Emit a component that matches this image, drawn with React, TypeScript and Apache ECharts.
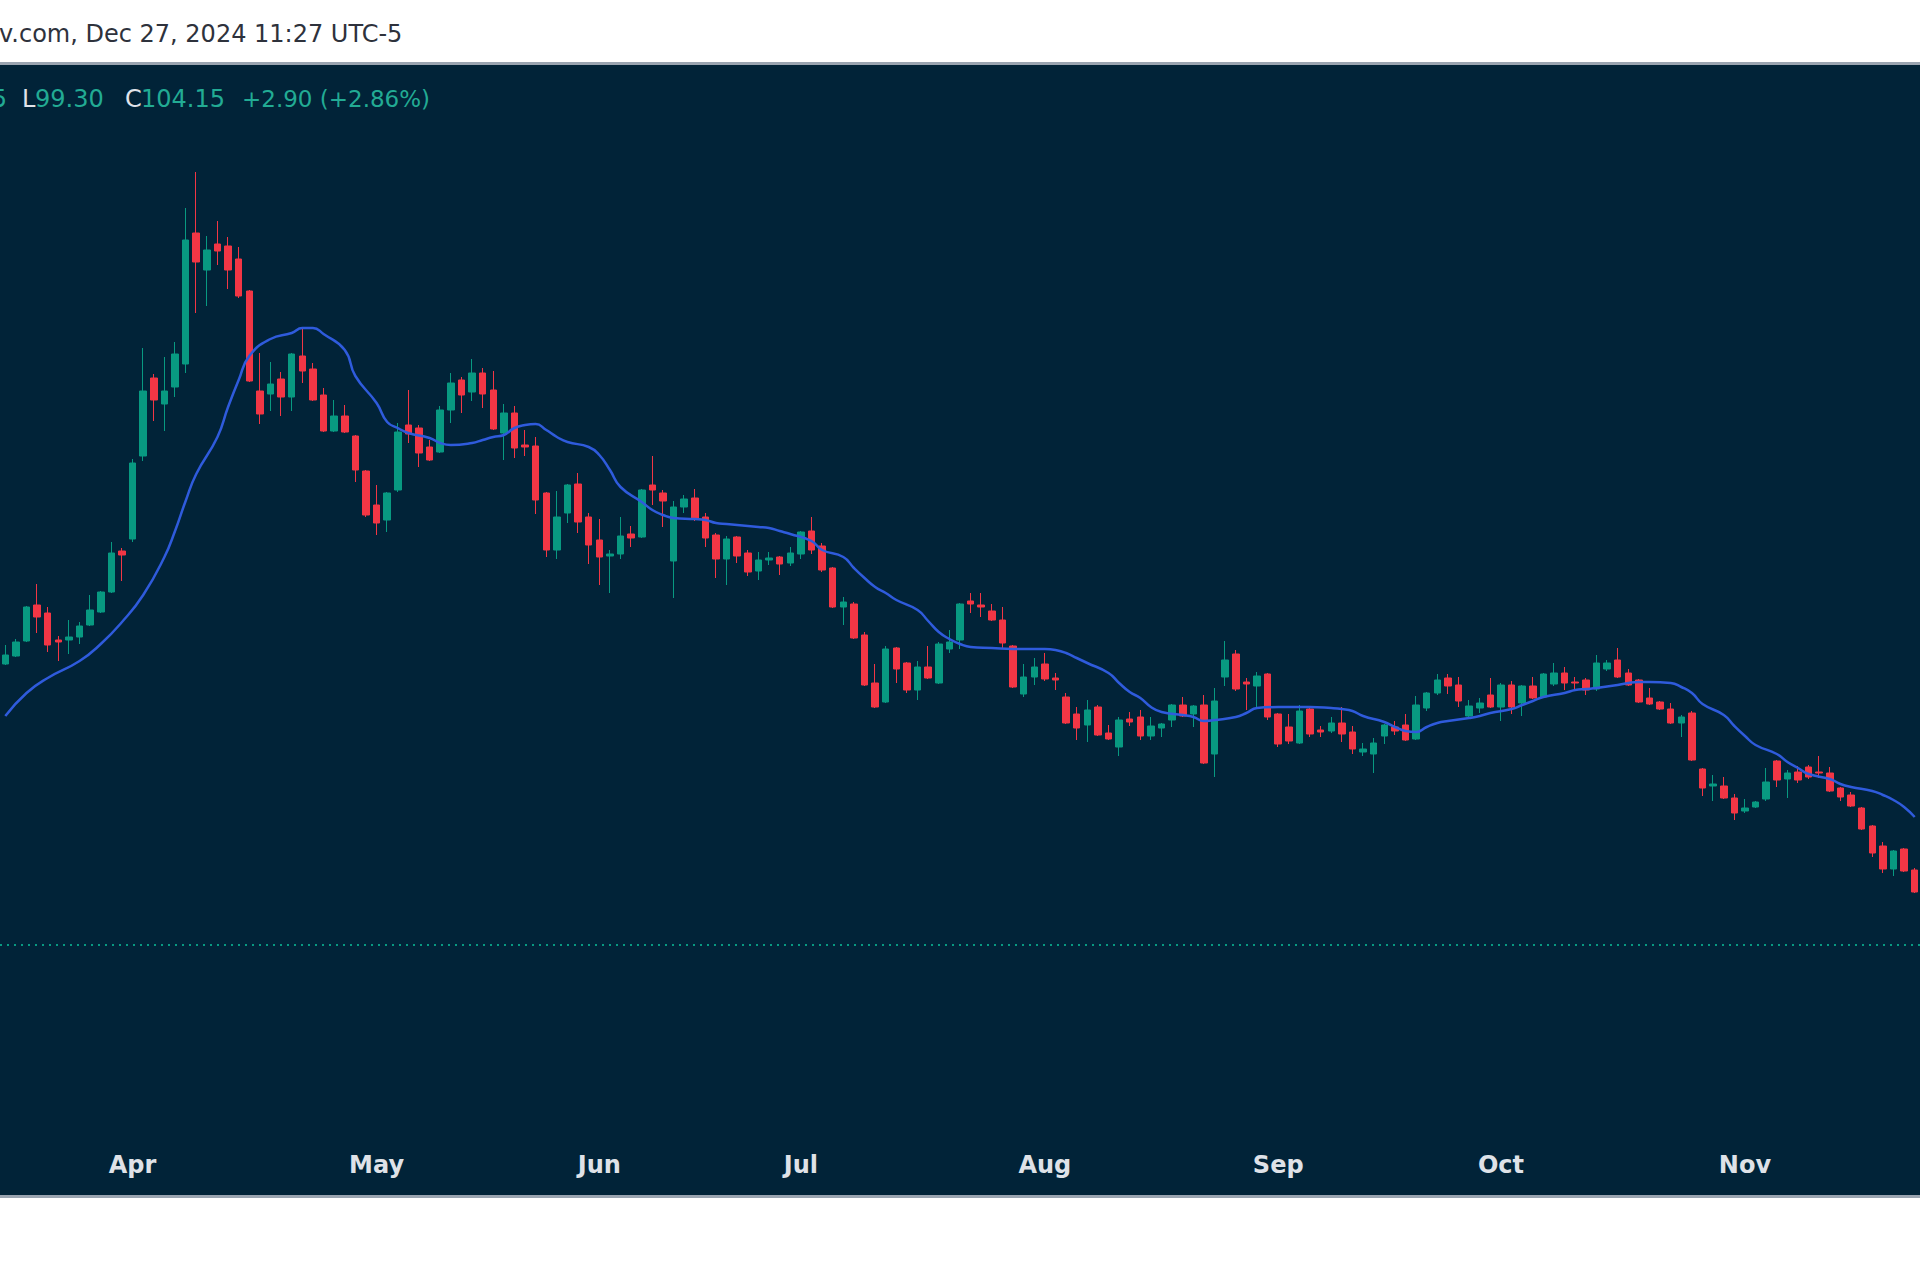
import React, { useEffect, useRef } from "react";
import * as echarts from "echarts";

// Daily OHLC (bar 0 = first visible bar at the left edge)
const open = [
  132.2, 133.0, 134.5, 138.1, 137.3, 134.6, 134.6, 134.9, 136.1, 137.4,
  139.4, 143.5, 144.7, 153.0, 160.8, 158.2, 159.9, 162.2, 175.3, 171.6,
  174.2, 174.0, 172.7, 169.5, 159.5, 159.2, 160.7, 158.9, 163.0, 161.7,
  159.1, 155.5, 157.0, 155.0, 151.5, 148.1, 146.6, 149.6, 156.1, 155.8,
  153.9, 153.4, 157.6, 160.6, 159.4, 161.3, 159.6, 155.3, 157.3, 154.1,
  154.0, 149.3, 143.6, 147.3, 150.2, 146.9, 144.6, 143.0, 143.2, 145.2,
  144.9, 150.1, 149.3, 142.5, 147.9, 148.8, 146.9, 145.1, 142.7, 144.9,
  143.3, 141.5, 142.6, 142.9, 142.3, 143.2, 145.5, 144.0, 141.8, 137.9,
  138.2, 135.1, 130.3, 128.4, 133.8, 132.3, 129.6, 131.9, 130.3, 133.7,
  134.6, 138.5, 138.1, 137.5, 136.6, 134.0, 129.2, 130.9, 132.2, 130.8,
  128.9, 127.2, 126.1, 127.9, 125.3, 123.9, 126.7, 126.9, 125.0, 125.8,
  126.6, 128.1, 127.2, 128.1, 123.2, 130.9, 133.2, 130.4, 130.0, 131.2,
  127.2, 125.9, 124.3, 127.7, 125.6, 125.5, 126.3, 125.4, 123.4, 123.2,
  125.0, 125.9, 126.1, 124.7, 127.8, 129.3, 130.8, 130.1, 127.0, 127.8,
  129.1, 127.9, 130.1, 128.3, 130.0, 128.9, 130.2, 131.3, 130.4, 130.6,
  129.7, 131.7, 132.6, 131.3, 130.6, 128.8, 128.4, 127.7, 126.3, 127.3,
  121.7, 120.0, 120.0, 118.8, 117.5, 117.9, 118.7, 122.5, 120.7, 121.4,
  121.9, 121.4, 121.3, 119.8, 119.1, 117.8, 116.0, 114.0, 111.7, 113.7,
  111.6,
];
const high = [
  134.1, 134.7, 138.0, 140.2, 137.9, 135.0, 136.6, 136.4, 139.1, 139.5,
  144.4, 143.8, 152.7, 163.8, 161.2, 162.9, 164.4, 177.8, 181.4, 175.0,
  176.5, 174.9, 173.9, 169.6, 163.3, 162.4, 161.4, 163.3, 165.9, 162.3,
  159.8, 158.6, 158.1, 155.1, 151.6, 150.1, 149.4, 156.3, 159.6, 156.1,
  154.6, 158.0, 161.3, 160.9, 162.7, 161.8, 161.5, 158.2, 158.0, 155.6,
  154.9, 149.4, 149.5, 150.2, 151.3, 147.3, 146.7, 143.6, 146.9, 146.0,
  149.7, 153.0, 149.6, 148.5, 149.1, 149.7, 147.3, 145.3, 145.0, 145.0,
  143.6, 143.4, 143.4, 143.0, 143.9, 145.5, 146.9, 144.3, 141.9, 138.9,
  138.4, 135.4, 132.2, 134.0, 133.9, 132.4, 132.5, 134.0, 134.4, 135.6,
  138.3, 139.3, 139.3, 138.2, 137.9, 134.1, 132.2, 132.8, 133.3, 131.3,
  129.3, 127.9, 128.6, 128.1, 126.1, 126.9, 127.4, 127.6, 126.9, 126.3,
  128.2, 128.9, 128.1, 129.1, 129.8, 134.5, 133.6, 130.8, 131.4, 131.3,
  127.3, 127.2, 128.1, 127.8, 126.0, 126.9, 127.9, 126.0, 124.3, 124.8,
  126.2, 126.5, 127.2, 129.0, 129.4, 131.2, 131.2, 130.9, 128.6, 128.8,
  130.8, 130.3, 130.5, 130.1, 130.9, 131.3, 132.3, 131.9, 130.9, 130.8,
  133.1, 132.6, 133.8, 131.7, 130.7, 129.8, 128.5, 128.3, 127.1, 127.5,
  121.8, 121.1, 120.9, 119.2, 118.7, 118.5, 121.8, 122.6, 121.6, 122.0,
  122.1, 123.0, 121.9, 119.9, 119.4, 117.9, 116.1, 114.4, 113.6, 113.8,
  111.8,
];
const low = [
  132.1, 132.9, 134.4, 135.3, 133.4, 132.5, 133.2, 134.2, 136.0, 137.3,
  139.3, 140.5, 144.4, 152.5, 156.5, 155.5, 158.9, 161.3, 167.3, 168.0,
  172.1, 169.7, 168.8, 160.4, 156.2, 157.5, 157.0, 157.5, 160.3, 158.5,
  155.4, 155.4, 155.3, 150.4, 146.9, 145.1, 145.4, 149.4, 154.3, 151.9,
  152.5, 153.3, 156.3, 157.3, 158.5, 157.8, 155.6, 152.6, 152.8, 153.0,
  147.2, 142.9, 142.7, 146.3, 145.3, 142.2, 140.1, 139.3, 142.7, 143.9,
  144.8, 148.1, 145.9, 138.8, 147.3, 146.5, 143.9, 140.8, 140.1, 142.3,
  141.0, 140.6, 142.1, 141.1, 142.0, 142.7, 143.2, 141.4, 137.8, 136.1,
  134.7, 130.0, 127.8, 128.3, 130.3, 129.3, 128.6, 130.7, 130.2, 133.3,
  133.7, 137.3, 136.9, 136.5, 133.7, 129.8, 128.9, 130.1, 130.5, 129.6,
  126.2, 124.6, 124.4, 125.0, 124.6, 123.0, 126.0, 124.6, 124.6, 124.9,
  125.9, 126.9, 125.9, 122.2, 120.9, 130.0, 129.5, 127.6, 127.8, 126.6,
  123.9, 124.2, 124.2, 124.9, 124.9, 125.3, 124.4, 123.2, 123.0, 121.3,
  124.2, 125.1, 124.5, 124.6, 127.5, 129.1, 129.2, 127.9, 126.9, 127.3,
  127.8, 126.5, 127.2, 127.0, 128.7, 128.8, 130.0, 129.6, 129.5, 129.1,
  129.5, 131.5, 130.8, 130.0, 128.3, 128.1, 127.6, 126.2, 124.9, 122.5,
  119.0, 118.5, 118.7, 116.6, 117.3, 117.8, 118.5, 119.9, 118.8, 120.3,
  120.7, 120.8, 119.4, 118.5, 117.9, 115.6, 112.9, 111.3, 111.0, 111.4,
  109.3,
];
const close = [
  133.1, 134.4, 137.9, 136.9, 134.1, 134.4, 134.9, 136.0, 137.6, 139.4,
  143.3, 143.1, 152.3, 159.5, 158.6, 159.5, 163.2, 174.6, 172.4, 173.6,
  173.5, 171.6, 169.0, 160.5, 157.2, 160.2, 158.9, 163.2, 161.5, 158.6,
  155.5, 157.0, 155.4, 151.6, 147.1, 146.3, 149.3, 155.4, 155.2, 153.3,
  152.6, 157.6, 160.3, 159.1, 161.3, 159.2, 155.7, 157.3, 153.8, 153.9,
  148.6, 143.6, 146.9, 150.1, 146.4, 144.1, 142.9, 143.2, 145.0, 144.8,
  149.6, 149.6, 148.5, 147.9, 148.7, 146.7, 144.8, 142.7, 144.7, 143.0,
  141.4, 142.6, 142.8, 142.2, 143.3, 145.4, 143.6, 141.6, 137.9, 138.4,
  134.8, 130.1, 127.9, 133.7, 131.7, 129.6, 131.9, 130.8, 134.2, 134.4,
  138.2, 138.2, 137.9, 136.6, 134.3, 129.9, 130.9, 131.9, 130.7, 130.6,
  126.3, 125.8, 127.6, 125.1, 124.7, 126.6, 126.4, 125.0, 126.0, 126.2,
  128.1, 127.0, 128.0, 122.3, 128.5, 132.6, 129.7, 130.2, 131.0, 126.9,
  124.2, 124.5, 127.5, 125.2, 125.4, 126.3, 125.2, 123.7, 123.7, 124.3,
  126.1, 125.5, 124.6, 128.1, 129.3, 130.6, 130.0, 128.5, 128.0, 128.3,
  127.9, 130.1, 127.9, 130.0, 128.8, 131.2, 131.3, 130.3, 130.3, 129.6,
  132.3, 132.3, 130.9, 130.1, 128.4, 128.2, 127.7, 126.3, 126.9, 122.6,
  119.8, 120.2, 118.8, 117.3, 117.8, 118.4, 120.4, 120.6, 121.3, 120.6,
  120.9, 121.3, 119.5, 118.9, 118.0, 115.7, 113.3, 111.7, 113.5, 111.5,
  109.4,
];

// Month labels of the time axis (bar index where each month starts)
const tickBars = [12, 35, 56, 75, 98, 120, 141, 164];
const tickLabels = ["Apr", "May", "Jun", "Jul", "Aug", "Sep", "Oct", "Nov"];

// Moving-average line at these bars
const maBars = [
  0, 2, 4, 7, 9, 11, 13, 15, 16, 17, 18, 20, 21, 22, 23, 25, 27, 28, 29, 30,
  32, 33, 35, 36, 37, 38, 40, 41, 42, 44, 45, 46, 47, 48, 49, 50, 51, 52, 53, 55,
  56, 57, 58, 60, 61, 62, 63, 65, 66, 67, 68, 69, 71, 72, 73, 74, 76, 77, 79, 80,
  81, 82, 83, 84, 86, 87, 88, 89, 90, 91, 93, 95, 96, 98, 99, 100, 101, 102, 104, 105,
  106, 107, 108, 109, 111, 112, 113, 114, 116, 117, 118, 120, 121, 122, 123, 125, 126, 127, 128, 130,
  131, 132, 133, 134, 135, 136, 138, 139, 140, 142, 143, 144, 145, 147, 148, 149, 150, 152, 153, 154,
  155, 157, 158, 159, 160, 162, 163, 164, 165, 167, 168, 169, 170, 172, 173, 174, 176, 177, 178, 179,
  180,
];
const maValues = [
  127.0, 129.3, 130.8, 132.5, 134.2, 136.4, 139.1, 142.9, 145.5, 148.5, 151.2, 154.9, 157.9, 160.6, 163.0, 164.7, 165.3, 165.8, 165.8, 165.2,
  163.6, 161.0, 158.3, 156.4, 155.8, 155.3, 154.8, 154.3, 154.1, 154.3, 154.6, 154.9, 155.1, 155.8, 156.1, 156.2, 155.6, 154.9, 154.4, 153.9,
  153.1, 151.6, 149.9, 148.4, 147.6, 147.1, 146.8, 146.7, 146.6, 146.3, 146.2, 146.1, 145.9, 145.8, 145.5, 145.2, 144.5, 143.6, 142.9, 141.8,
  140.8, 139.9, 139.3, 138.6, 137.6, 136.5, 135.4, 134.7, 134.2, 133.9, 133.8, 133.7, 133.7, 133.7, 133.6, 133.3, 132.8, 132.3, 131.3, 130.3,
  129.4, 128.8, 127.9, 127.4, 127.1, 126.9, 126.5, 126.6, 126.9, 127.3, 127.8, 127.9, 127.9, 127.9, 127.9, 127.8, 127.7, 127.5, 127.0, 126.4,
  125.9, 125.5, 125.4, 125.9, 126.3, 126.5, 126.8, 127.0, 127.3, 127.7, 128.1, 128.5, 128.9, 129.3, 129.6, 129.7, 129.8, 130.1, 130.3, 130.4,
  130.4, 130.3, 129.9, 129.3, 128.2, 127.1, 126.0, 125.0, 124.1, 123.2, 122.4, 121.8, 121.2, 120.7, 120.2, 119.9, 119.5, 119.1, 118.6, 117.9,
  116.9,
];

const lastPrice = 104.15;

const NAVY = "#012338";
const UP = "#089981";
const DOWN = "#f23645";
const FONT = "DejaVu Sans";

export default function App() {
  const ref = useRef<HTMLDivElement>(null);

  useEffect(() => {
    if (!ref.current) return;
    const chart = echarts.init(ref.current, null, { renderer: "svg" });
    const n = close.length;
    const categories = close.map((_, i) => String(i));
    const candles = close.map((c, i) => [open[i], c, low[i], high[i]]);
    const ma: (number | null)[] = new Array(n).fill(null);
    maBars.forEach((b, k) => {
      ma[b] = maValues[k];
    });
    const labelAt: Record<number, string> = {};
    tickBars.forEach((b, k) => {
      labelAt[b] = tickLabels[k];
    });

    const legendY = 99;
    chart.setOption({
      animation: false,
      backgroundColor: NAVY,
      grid: { left: 0, right: 0, top: 65, bottom: 145, containLabel: false },
      xAxis: {
        type: "category",
        data: categories,
        boundaryGap: true,
        axisLine: { show: false },
        axisTick: { show: false },
        splitLine: { show: false },
        axisLabel: {
          interval: 0,
          formatter: (_v: string, i: number) => labelAt[i] || "",
          color: "#dfe2e8",
          fontFamily: FONT,
          fontSize: 24,
          fontWeight: "bold",
          margin: 18,
        },
      },
      yAxis: {
        type: "value",
        show: false,
        min: 85.1,
        max: 192.1,
        splitLine: { show: false },
      },
      series: [
        {
          type: "candlestick",
          data: candles,
          barWidth: 7,
          itemStyle: {
            color: UP,
            color0: DOWN,
            borderColor: UP,
            borderColor0: DOWN,
            borderWidth: 1,
          },
          markLine: {
            silent: true,
            symbol: ["none", "none"],
            label: { show: false },
            lineStyle: { color: UP, type: [2, 5], width: 2 },
            data: [{ yAxis: lastPrice }],
          },
        },
        {
          type: "line",
          data: ma,
          connectNulls: true,
          smooth: 0.5,
          showSymbol: false,
          lineStyle: { color: "#2f5bdc", width: 2.5 },
          z: 3,
        },
      ],
      graphic: [
        { type: "rect", shape: { x: 0, y: 0, width: 1920, height: 62 }, style: { fill: "#ffffff" } },
        { type: "rect", shape: { x: 0, y: 62, width: 1920, height: 3 }, style: { fill: "#9aa4b0" } },
        { type: "rect", shape: { x: 0, y: 1195, width: 1920, height: 3 }, style: { fill: "#9aa4b0" } },
        { type: "rect", shape: { x: 0, y: 1198, width: 1920, height: 82 }, style: { fill: "#ffffff" } },
        {
          type: "text",
          x: -1,
          y: 34,
          style: {
            text: "v.com, Dec 27, 2024 11:27 UTC-5",
            fill: "#2e323c",
            fontFamily: FONT,
            fontSize: 24,
            align: "left",
            verticalAlign: "middle",
          },
        },
        { type: "text", x: 7, y: legendY, style: { text: "5", fill: "#22ab94", fontFamily: FONT, fontSize: 24, align: "right", verticalAlign: "middle" } },
        { type: "text", x: 22, y: legendY, style: { text: "L", fill: "#e0e3eb", fontFamily: FONT, fontSize: 24, align: "left", verticalAlign: "middle" } },
        { type: "text", x: 35, y: legendY, style: { text: "99.30", fill: "#22ab94", fontFamily: FONT, fontSize: 24, align: "left", verticalAlign: "middle" } },
        { type: "text", x: 125, y: legendY, style: { text: "C", fill: "#e0e3eb", fontFamily: FONT, fontSize: 24, align: "left", verticalAlign: "middle" } },
        { type: "text", x: 141, y: legendY, style: { text: "104.15", fill: "#22ab94", fontFamily: FONT, fontSize: 24, align: "left", verticalAlign: "middle" } },
        { type: "text", x: 242, y: legendY, style: { text: "+2.90 (+2.86%)", fill: "#22ab94", fontFamily: FONT, fontSize: 23, align: "left", verticalAlign: "middle" } },
      ],
    });
    return () => chart.dispose();
  }, []);

  return (
    <div
      ref={ref}
      style={{ position: "fixed", left: 0, top: 0, width: 1920, height: 1280 }}
    />
  );
}
